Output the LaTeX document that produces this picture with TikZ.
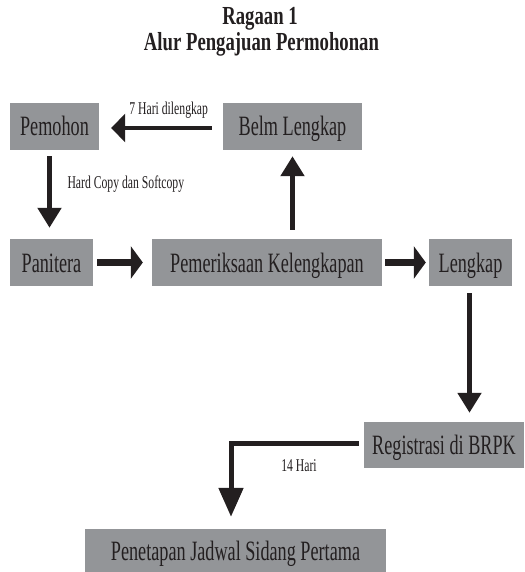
\documentclass[tikz,border=0pt]{standalone}
\usepackage{fontspec}
\setmainfont{Liberation Serif}[FakeStretch=0.65]
\newfontfamily\titlefam{Liberation Serif}[FakeStretch=0.72]
\usetikzlibrary{arrows.meta}
\definecolor{boxgray}{HTML}{939598}
\definecolor{ink}{HTML}{231F20}
\begin{document}
\begin{tikzpicture}[x=1pt,y=-1pt,
  box/.style={fill=boxgray, draw=none, inner sep=0pt, text=ink,
    font=\fontsize{28}{30}\selectfont, text height=19pt, text depth=0pt,
    minimum height=47pt},
  titlefont/.style={text=ink, font=\titlefam\fontsize{26}{28}\selectfont\bfseries, inner sep=0pt},
  lbl/.style={text=ink, font=\fontsize{18}{20}\selectfont, inner sep=0pt},
  arrV/.style={draw=ink, line width=5pt, -{Triangle[width=23pt,length=20pt]}},
  arrH/.style={draw=ink, line width=6.5pt, -{Triangle[width=32pt,length=12pt]}},
  arrL/.style={draw=ink, line width=4.5pt, -{Triangle[width=28pt,length=14pt]}},
  arrE/.style={draw=ink, line width=5pt, line join=miter, -{Triangle[width=24pt,length=29pt]}}
]
\useasboundingbox (0,0) rectangle (524,572);

% title
\node[titlefont, anchor=base] (t1) at (260,25) {Ragaan 1};
\node[titlefont, anchor=base] (t2) at (261.5,51) {Alur Pengajuan Permohonan};

% boxes
\node[box, minimum width=89pt]  (pemohon)    at (54.5,126.5) {Pemohon};
\node[box, minimum width=139pt] (belm)       at (292.5,126.5) {Belm Lengkap};
\node[box, minimum width=83pt]  (panitera)   at (51.5,262.5) {Panitera};
\node[box, minimum width=230pt] (periksa)    at (267,262.5) {Pemeriksaan Kelengkapan};
\node[box, minimum width=83pt]  (lengkap)    at (470.5,262.5) {Lengkap};
\node[box, minimum width=160pt, minimum height=46pt] (registrasi) at (444,445) {Registrasi di BRPK};
\node[box, minimum width=301pt, minimum height=43pt] (penetapan)  at (235.5,550.5) {Penetapan Jadwal Sidang Pertama};

% connectors
\draw[arrL, shorten <=11pt, shorten >=12pt]
  ([yshift=-1.5pt]belm.west) -- ([yshift=-1.5pt]pemohon.east)
  node[lbl, pos=0.774, anchor=base west, yshift=13pt] {7 Hari dilengkap};

\draw[arrV, shorten <=6pt, shorten >=11pt]
  ([xshift=-5pt]pemohon.south) -- ([xshift=-5pt]pemohon.south |- panitera.north)
  node[lbl, pos=0.427, anchor=base west, xshift=15.5pt] {Hard Copy dan Softcopy};

\draw[arrV, shorten <=9pt, shorten >=6pt]
  (belm.south |- periksa.north) -- (belm.south);

\draw[arrH, shorten <=4pt, shorten >=9pt]
  (panitera.east) -- (periksa.west);

\draw[arrH, shorten <=3pt, shorten >=3pt]
  (periksa.east) -- (lengkap.west);

\draw[arrV, shorten <=7pt, shorten >=9pt]
  ([xshift=-1pt]lengkap.south) -- ([xshift=-1pt]lengkap.south |- registrasi.north);

\draw[arrE, shorten <=5pt, shorten >=12pt]
  ([yshift=1.5pt]registrasi.west) -| ([xshift=-4.5pt]penetapan.north)
  node[lbl, pos=0.32, anchor=base west, yshift=-27.5pt] {14 Hari};
\end{tikzpicture}
\end{document}
